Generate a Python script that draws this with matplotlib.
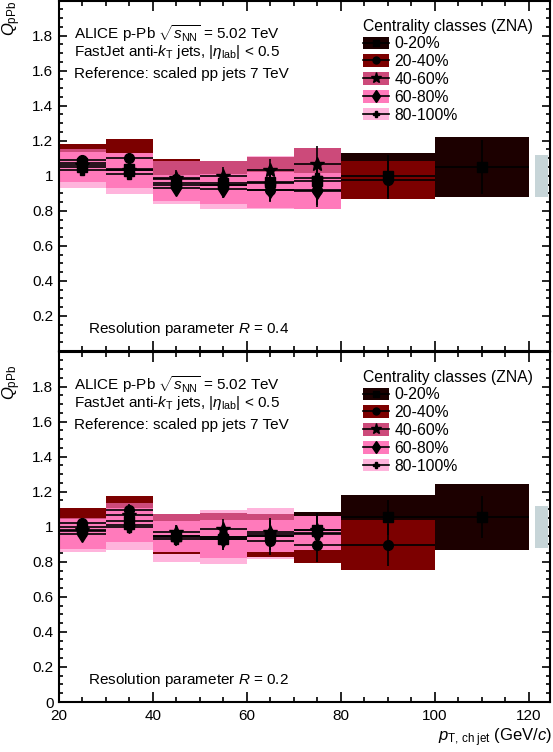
import numpy as np
import matplotlib
matplotlib.use("Agg")
import matplotlib.pyplot as plt
from matplotlib.patches import Patch
from matplotlib.lines import Line2D
from matplotlib.ticker import MultipleLocator, FuncFormatter
from matplotlib.legend_handler import HandlerTuple

plt.rcParams['font.family'] = ['Liberation Sans', 'DejaVu Sans']
plt.rcParams['mathtext.fontset'] = 'custom'
plt.rcParams['mathtext.rm'] = 'Liberation Sans'
plt.rcParams['mathtext.it'] = 'Liberation Sans:italic'
plt.rcParams['font.size'] = 11

# --- data ---
bin_edges = np.array([20, 30, 40, 50, 60, 70, 80, 100, 120])
classes = ['0-20%', '20-40%', '40-60%', '60-80%', '80-100%']
colors = ['#1c0000', '#7c0000', '#cc4a7a', '#ff7abb', '#ffb4dc']
markers = ['s', 'o', '*', 'd', 'P']
msizes = [7, 7, 10, 8, 7]
nan = np.nan

# R = 0.4 (top panel)
r04_val = [
    [1.07, 1.04, 0.96, 0.96, 0.962, 0.97, 1.00, 1.05],
    [1.09, 1.10, 0.98, 0.95, 0.918, 0.918, 0.975, nan],
    [1.06, 1.03, 0.99, 1.00, 1.03, 1.067, nan, nan],
    [1.05, 1.03, 0.93, 0.925, 0.917, 0.913, nan, nan],
    [1.03, 1.01, 0.95, 0.945, 0.96, 0.99, nan, nan],
]
r04_stat = [
    [0.03, 0.03, 0.04, 0.05, 0.06, 0.07, 0.12, 0.155],
    [0.03, 0.03, 0.04, 0.05, 0.07, 0.095, 0.11, nan],
    [0.03, 0.03, 0.04, 0.05, 0.065, 0.10, nan, nan],
    [0.03, 0.03, 0.04, 0.05, 0.06, 0.08, nan, nan],
    [0.03, 0.03, 0.04, 0.05, 0.06, 0.08, nan, nan],
]
r04_sys = [
    [0.07, 0.08, 0.09, 0.09, 0.09, 0.10, 0.128, 0.17],
    [0.09, 0.11, 0.115, 0.10, 0.10, 0.09, 0.11, nan],
    [0.09, 0.09, 0.095, 0.085, 0.077, 0.09, nan, nan],
    [0.085, 0.10, 0.072, 0.085, 0.103, 0.103, nan, nan],
    [0.10, 0.115, 0.11, 0.135, 0.15, 0.17, nan, nan],
]

# R = 0.2 (bottom panel)
r02_val = [
    [1.00, 1.03, 0.95, 0.93, 0.95, 0.98, 1.055, 1.055],
    [1.02, 1.097, 0.94, 0.94, 0.92, 0.897, 0.896, nan],
    [0.98, 1.065, 0.97, 0.985, 0.97, 0.98, nan, nan],
    [0.96, 1.01, 0.945, 0.93, 0.947, 0.964, nan, nan],
    [0.975, 1.00, 0.93, 0.943, 0.96, 0.96, nan, nan],
]
r02_stat = [
    [0.03, 0.035, 0.04, 0.06, 0.08, 0.10, 0.10, 0.12],
    [0.03, 0.035, 0.04, 0.06, 0.08, 0.10, 0.12, nan],
    [0.03, 0.035, 0.04, 0.06, 0.08, 0.10, nan, nan],
    [0.03, 0.035, 0.04, 0.06, 0.08, 0.10, nan, nan],
    [0.03, 0.035, 0.04, 0.06, 0.08, 0.10, nan, nan],
]
r02_sys = [
    [0.06, 0.07, 0.06, 0.06, 0.07, 0.107, 0.127, 0.19],
    [0.087, 0.08, 0.095, 0.10, 0.09, 0.104, 0.143, nan],
    [0.07, 0.07, 0.10, 0.095, 0.10, 0.07, nan, nan],
    [0.086, 0.095, 0.09, 0.11, 0.093, 0.095, nan, nan],
    [0.117, 0.13, 0.13, 0.153, 0.145, 0.09, nan, nan],
]

norm_unc = [0.12, 0.12]
norm_x = [121.3, 124.1]
radius = ['0.4', '0.2']

# boxes are layered in this order
box_order = [0, 4, 1, 2, 3]

centers = 0.5 * (bin_edges[:-1] + bin_edges[1:])
half_w = 0.5 * np.diff(bin_edges)

W, H = 553, 752
fig = plt.figure(figsize=(W / 100, H / 100), dpi=100)
ax_top = fig.add_axes([59 / W, 1 - 351 / H, 491 / W, 350.5 / H])
ax_bot = fig.add_axes([59 / W, 1 - 702 / H, 491 / W, 350.5 / H])


def yfmt(v, pos):
    if abs(v - round(v)) < 1e-6:
        return '%d' % round(v)
    return '%.1f' % v


def draw_panel(ax, vals, stats, syss, rlabel, show_zero):
    for i in box_order:
        v = np.array(vals[i])
        s = np.array(syss[i])
        ok = ~np.isnan(v)
        ax.bar(centers[ok], 2 * s[ok], bottom=v[ok] - s[ok], width=2 * half_w[ok],
               color=colors[i], edgecolor='none', zorder=2)
    for i in range(len(classes)):
        v = np.array(vals[i])
        st = np.array(stats[i])
        ok = ~np.isnan(v)
        ax.errorbar(centers[ok], v[ok], xerr=half_w[ok], yerr=st[ok], fmt=markers[i],
                    color='k', ms=msizes[i], elinewidth=1.2, capsize=0, zorder=4)
    ax.bar(0.5 * (norm_x[0] + norm_x[1]), 2 * norm_unc[0], bottom=1 - norm_unc[0],
           width=norm_x[1] - norm_x[0], color='#c7d5d8', edgecolor='none', zorder=2)

    ax.set_xlim(20, 124.5)
    ax.set_ylim(0, 2.0)
    ax.xaxis.set_major_locator(MultipleLocator(20))
    ax.xaxis.set_minor_locator(MultipleLocator(5))
    ax.yaxis.set_major_locator(MultipleLocator(0.2))
    ax.yaxis.set_minor_locator(MultipleLocator(0.05))
    ax.yaxis.set_major_formatter(FuncFormatter(
        lambda v, p: '' if (v > 1.95 or (v < 0.01 and not show_zero)) else yfmt(v, p)))
    ax.tick_params(axis='both', which='both', direction='in', top=True, right=True,
                   width=1.2, labelsize=11)
    ax.tick_params(axis='x', which='major', length=7, pad=5)
    ax.tick_params(axis='x', which='minor', length=3.5)
    ax.tick_params(axis='y', which='major', length=6, pad=4)
    ax.tick_params(axis='y', which='minor', length=3)
    for sp in ax.spines.values():
        sp.set_linewidth(1.5)

    ax.text(0.0305, 1 - 38 / 350, r'ALICE p-Pb $\sqrt{s_{\rm NN}}$ = 5.02 TeV',
            transform=ax.transAxes, va='baseline', ha='left')
    ax.text(0.0305, 1 - 55 / 350, r'FastJet anti-$k_{\rm T}$ jets, |$\eta_{\rm lab}$| < 0.5',
            transform=ax.transAxes, va='baseline', ha='left')
    ax.text(0.0305, 1 - 77 / 350, 'Reference: scaled pp jets 7 TeV',
            transform=ax.transAxes, va='baseline', ha='left')
    ax.text((88 - 59) / 491, 17.5 / 350, 'Resolution parameter $R$ = ' + rlabel,
            transform=ax.transAxes, va='baseline', ha='left')

    handles = []
    for i in range(len(classes)):
        handles.append((Patch(facecolor=colors[i], edgecolor='none'),
                        Line2D([], [], color='k', lw=1.2, marker=markers[i], ms=msizes[i] - 2)))
    leg = ax.legend(handles, classes, handler_map={tuple: HandlerTuple(ndivide=1, pad=0)},
                    loc='upper left', bbox_to_anchor=((363 - 59) / 491, 1 - 18 / 350),
                    frameon=False, borderpad=0, borderaxespad=0, handlelength=1.65,
                    handleheight=0.85, handletextpad=0.35, labelspacing=0.18,
                    title='Centrality classes (ZNA)', title_fontsize=11.3, fontsize=11.3,
                    alignment='left')
    leg.set_zorder(5)


draw_panel(ax_top, r04_val, r04_stat, r04_sys, radius[0], False)
draw_panel(ax_bot, r02_val, r02_stat, r02_sys, radius[1], True)
ax_top.tick_params(axis='x', labelbottom=False)

fig.text(12 / W, 1 - 1 / H, r'$Q_{\rm pPb}$', rotation=90, ha='center', va='top', fontsize=12)
fig.text(12 / W, 1 - 400 / H, r'$Q_{\rm pPb}$', rotation=90, ha='center', va='bottom', fontsize=12)
fig.text(552 / W, 1 - 738 / H, r'$p_{\rm T,\,ch\;jet}$ (GeV/$c$)', ha='right', va='center',
         fontsize=12)

fig.savefig('out.png', dpi=100)
